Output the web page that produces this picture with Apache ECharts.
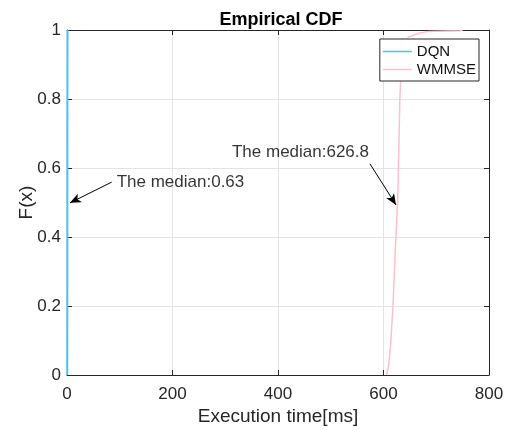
<!DOCTYPE html>
<html><head><meta charset="utf-8">
<script src="https://cdn.jsdelivr.net/npm/echarts@6/dist/echarts.min.js"></script>
<style>html,body{margin:0;padding:0;background:#fff}#c{width:510px;height:430px}</style>
</head><body><div id="c"></div>
<script>
// DQN execution times (ms) and CDF values
const dqnX = [0.40, 0.50, 0.58, 0.63, 0.68, 0.80, 0.95];
const dqnF = [0, 0.10, 0.30, 0.50, 0.70, 0.90, 1];
// WMMSE execution times (ms) and CDF values
const wmmseX = [606, 610, 614, 618, 622, 626.8, 629, 631, 633, 636, 640, 648, 665, 685, 745, 750];
const wmmseF = [0, 0.03, 0.10, 0.20, 0.35, 0.50, 0.65, 0.80, 0.87, 0.92, 0.96, 0.98, 0.99, 0.996, 0.998, 1];
const xTicks = [0, 200, 400, 600, 800];
const yTicks = [0, 0.2, 0.4, 0.6, 0.8, 1];
// annotations: text anchor and arrow tail/head in data coordinates
const annTexts = [
  {text: 'The median:0.63', pos: [94.2, 0.558], align: 'left'},
  {text: 'The median:626.8', pos: [572.5, 0.645], align: 'right'}
];
const annArrows = [
  [[84.7, 0.559], [5.7, 0.499]],
  [[574.4, 0.612], [623.7, 0.493]]
];

const font = '"Liberation Sans", Arial, sans-serif';
const dark = '#262626';
const chart = echarts.init(document.getElementById('c'), null, {renderer: 'canvas'});
const pairs = (xs, ys) => xs.map((v, i) => [v, ys[i]]);
const mkTick = () => ({show: true, inside: true, length: 5, lineStyle: {color: dark, width: 1}});
const mkLine = () => ({show: true, onZero: false, lineStyle: {color: dark, width: 1}});
chart.setOption({
  animation: false,
  backgroundColor: '#fff',
  textStyle: {fontFamily: font},
  title: {text: 'Empirical CDF', left: 276, top: 6, textAlign: 'center',
    textStyle: {fontFamily: font, fontSize: 18, fontWeight: 'bold', color: '#000'}},
  grid: {left: 67, right: 21, top: 30, bottom: 55, containLabel: false, outerBoundsMode: 'none'},
  legend: {data: ['DQN', 'WMMSE'], orient: 'vertical', right: 31, top: 39,
    icon: 'rect', itemWidth: 29, itemHeight: 1.5, itemGap: 3, padding: [5, 3, 4, 3],
    borderColor: dark, borderWidth: 1, backgroundColor: '#fff',
    textStyle: {fontFamily: font, fontSize: 15, color: '#111'}},
  xAxis: [
    {type: 'value', min: 0, max: 800, interval: 200, position: 'bottom',
      axisLine: mkLine(), axisTick: mkTick(),
      name: 'Execution time[ms]', nameLocation: 'middle', nameGap: 32, nameMoveOverlap: false,
      nameTextStyle: {fontFamily: font, fontSize: 19, color: dark},
      axisLabel: {fontFamily: font, fontSize: 17, color: dark, margin: 11,
        formatter: v => xTicks.includes(v) ? String(v) : ''},
      splitLine: {show: true, lineStyle: {color: '#e3e3e3', width: 1}}},
    {type: 'value', min: 0, max: 800, interval: 200, position: 'top',
      axisLine: mkLine(), axisTick: mkTick(), axisLabel: {show: false}, splitLine: {show: false}}
  ],
  yAxis: [
    {type: 'value', min: 0, max: 1, interval: 0.2, position: 'left',
      axisLine: mkLine(), axisTick: mkTick(),
      name: 'F(x)', nameLocation: 'middle', nameGap: 31, nameMoveOverlap: false,
      nameTextStyle: {fontFamily: font, fontSize: 19, color: dark},
      axisLabel: {fontFamily: font, fontSize: 17, color: dark, margin: 6,
        formatter: v => { const t = yTicks.find(y => Math.abs(y - v) < 1e-9); return t === undefined ? '' : String(t); }},
      splitLine: {show: true, lineStyle: {color: '#e3e3e3', width: 1}}},
    {type: 'value', min: 0, max: 1, interval: 0.2, position: 'right',
      axisLine: mkLine(), axisTick: mkTick(), axisLabel: {show: false}, splitLine: {show: false}}
  ],
  series: [
    {name: 'DQN', type: 'line', data: pairs(dqnX, dqnF), showSymbol: false, symbol: 'none',
      lineStyle: {color: '#4DBEEE', width: 2}, itemStyle: {color: '#4DBEEE'}, z: 3},
    {name: 'WMMSE', type: 'line', data: pairs(wmmseX, wmmseF), showSymbol: false, symbol: 'none',
      lineStyle: {color: '#FFC0CB', width: 1.5}, itemStyle: {color: '#FFC0CB'}, z: 2},
    {name: 'ann', type: 'scatter', symbolSize: 0, silent: true, z: 5,
      data: annTexts.map(a => ({value: a.pos, label: {show: true, position: 'inside', align: a.align,
        formatter: a.text, fontFamily: font, fontSize: 17, color: '#000'}})),
      markLine: {silent: true, symbol: ['none', 'arrow'], symbolSize: [7, 11], precision: 3,
        label: {show: false}, lineStyle: {color: '#000', width: 1, type: 'solid'},
        data: annArrows.map(a => [{coord: a[0]}, {coord: a[1]}])}}
  ]
});
</script></body></html>
